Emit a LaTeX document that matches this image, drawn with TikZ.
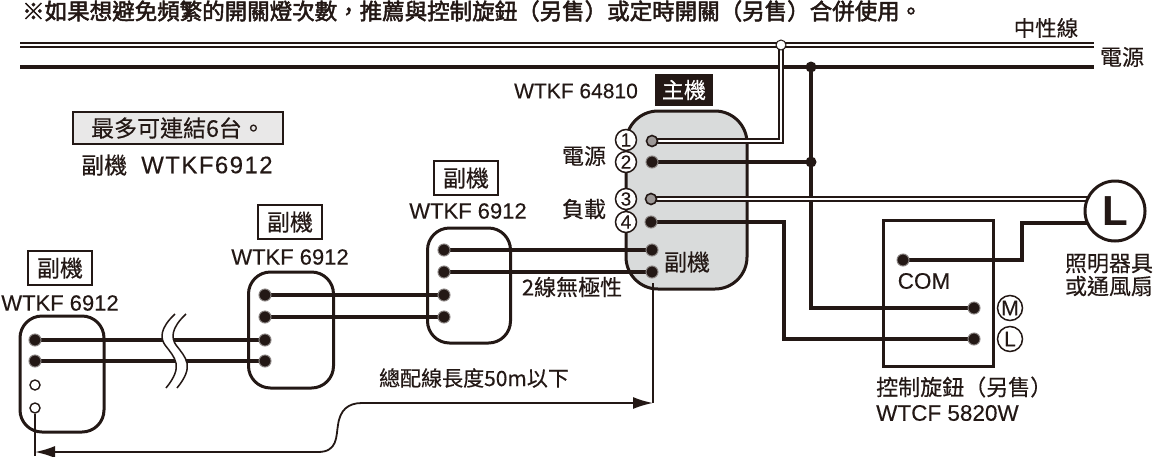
\documentclass[tikz,border=0pt]{standalone}
\usepackage{fontspec}
\setmainfont[FakeBold=0.3]{Liberation Sans}
\newfontfamily\cjk[FakeBold=0.35]{Noto Sans CJK TC}
\newfontfamily\cjkm[FakeBold=2.2]{Noto Sans CJK TC}
\newfontfamily\latb{Liberation Sans Bold}
\usetikzlibrary{arrows.meta}
\definecolor{ink}{HTML}{231815}
\definecolor{panel}{HTML}{D9DBDB}
\pgfdeclarelayer{boxes}\pgfdeclarelayer{wires}
\pgfsetlayers{boxes,wires,main}
\newcommand{\fs}[1]{\fontsize{#1}{#1}\selectfont}
\tikzset{
 x=1pt,y=-1pt,
 every node/.style={text=ink,inner sep=0pt},
 txt/.style={font=\fs{22}},
 cj/.style={font=\fs{22}\cjk},
 unit/.style={draw=ink,line width=3pt,rounded corners=#1,inner sep=0pt},
 thick wire/.style={draw=ink,line width=4.5pt},
 double wire/.style={draw=ink,double=white,line width=1.7pt,double distance=1.8pt},
 term/.style={circle,fill=ink,draw=ink!55,line width=1pt,minimum size=12pt},
 openterm/.style={circle,fill=white,draw=ink,line width=1.4pt,minimum size=10pt},
 ringterm/.style={circle,fill=ink!45,draw=ink,line width=1.6pt,minimum size=11pt},
 junction/.style={circle,fill=ink,minimum size=11pt},
 num/.style={circle,fill=white,draw=ink,line width=1.5pt,minimum size=21pt,font=\fs{19}},
 numb/.style={num,minimum size=25pt,font=\fs{21}},
 tag/.style={draw=ink,line width=2.2pt,minimum width=64pt,minimum height=34pt,font=\fs{23}\cjk},
 dim/.style={draw=ink,line width=1.8pt},
 dimarrow/.style={dim,{Latex[length=20pt,width=12pt]}-{Latex[length=20pt,width=12pt]}},
}
\begin{document}
\begin{tikzpicture}
\useasboundingbox (0,0) rectangle (1153,456);
% units
\begin{pgfonlayer}{boxes}
\node[unit=32pt,fill=panel,minimum width=121pt,minimum height=178pt] (main) at (686.5,200) {};
\node[unit=22pt,fill=white,minimum width=83pt,minimum height=115pt] (s1) at (469,285.5) {};
\node[unit=22pt,fill=white,minimum width=85pt,minimum height=116pt] (s2) at (291,330) {};
\node[unit=22pt,fill=white,minimum width=84pt,minimum height=116pt] (s3) at (62,374) {};
\node[draw=ink,line width=3pt,fill=white,minimum width=110pt,minimum height=146pt] (ctl) at (938,293) {};
\end{pgfonlayer}
% terminals
\node[ringterm] (t1) at (652,141) {};
\node[term] (t2) at (652,162) {};
\node[ringterm] (t3) at (651,199) {};
\node[term] (t4) at (651,222) {};
\node[term] (ta) at (652,250) {};
\node[term] (tb) at (652,272) {};
\node[term] (a1) at (444,250) {};
\node[term] (a2) at (444,272) {};
\node[term] (a3) at (444,295) {};
\node[term] (a4) at (444,317) {};
\node[term] (b1) at (265,295) {};
\node[term] (b2) at (265,317) {};
\node[term] (b3) at (265,340) {};
\node[term] (b4) at (265,361) {};
\node[term] (c1) at (35,340) {};
\node[term] (c2) at (35,361) {};
\node[openterm] (c3) at (35,385) {};
\node[openterm] (c4) at (35,408) {};
\node[term] (com) at (903,260) {};
\node[term] (m) at (974,308) {};
\node[term] (l) at (974,339) {};
% load
\node[circle,fill=white,draw=ink,line width=3pt,minimum size=60pt,font=\fs{42}\latb] (load) at (1115,211) {L};
% bus
\coordinate (nl) at (20,45); \coordinate (nr) at (1094,45);
\coordinate (pl) at (20,67); \coordinate (pr) at (1094,67);
\node[circle,fill=white,draw=ink,line width=1pt,minimum size=10pt] (jn) at (781,45) {};
\node[junction] (jp) at (811,67) {};
\node[junction] (j2) at (811,162) {};
\coordinate (tbfoot) at (653,283);
\coordinate (dimend) at (653,403);
\coordinate (dimstart) at (35,452);
\coordinate (cfoot) at (35,456);
\coordinate (bend4) at (784,339);
\coordinate (bendc) at (1022,223);
\begin{pgfonlayer}{wires}
\draw[double wire] (nl) -- (nr);
\draw[thick wire] (pl) -- (pr);
\draw[double wire] (jn.center) |- (t1.center);
\draw[thick wire] (t2.center) -- (j2.center);
\draw[thick wire] (jp.center) |- (m.center);
\draw[thick wire] (t4.center) -| (bend4) -- (l.center);
\draw[double wire] (t3.center) -- (t3.center -| load.center);
\draw[thick wire] (com.center) -| (bendc) -- (bendc -| load.center);
\draw[thick wire] (ta.center) -- (a1.center);
\draw[thick wire] (tb.center) -- (a2.center);
\draw[thick wire] (a3.center) -- (b1.center);
\draw[thick wire] (a4.center) -- (b2.center);
\draw[thick wire] (b3.center) -- (c1.center);
\draw[thick wire] (b4.center) -- (c2.center);
\draw[dim] (tbfoot) -- (dimend);
\draw[dim] (c4.south) -- (cfoot);
\end{pgfonlayer}
% break mark
\fill[white] (175,314) .. controls (160,328) and (160,338) .. (165,345) .. controls (175,358) and (184,366) .. (166,388)
 -- (177,388) .. controls (195,366) and (186,358) .. (176,345) .. controls (171,338) and (171,328) .. (186,314) -- cycle;
\draw[ink,line width=1.5pt] (175,314) .. controls (160,328) and (160,338) .. (165,345) .. controls (175,358) and (184,366) .. (166,388);
\draw[ink,line width=1.5pt] (186,314) .. controls (171,328) and (171,338) .. (176,345) .. controls (186,358) and (195,366) .. (177,388);
% dimension
\draw[dimarrow] (dimstart) -- (318,452) .. controls (338,452) and (336,436) .. (338,425) .. controls (340,410) and (348,403) .. (362,403) -- (dimend);
% numbered pins
\node[num] at (626,140) {1};
\node[num] at (626,162) {2};
\node[num] at (626,199) {3};
\node[num] at (626,222) {4};
\node[numb] at (1010,308) {M};
\node[numb] at (1010,339) {L};
% text
\node[anchor=west,font=\fs{22.5}\cjkm] at (22,11) {※如果想避免頻繁的開關燈次數，推薦與控制旋鈕（另售）或定時開關（另售）合併使用。};
\node[font=\fs{21.5}\cjk] at (1046,28) {中性線};
\node[cj] at (1122,57) {電源};
\node[font=\fs{21}] at (576,91) {WTKF 64810};
\node[fill=ink,minimum width=58pt,minimum height=32pt,text=white,font=\fs{22}\cjk] at (684,90) {主機};
\node[draw=ink,fill=ink!10,line width=1.5pt,minimum width=210pt,minimum height=32pt,font=\fs{23}\cjk] at (178,128) {最多可連結6台。};
\node[anchor=west,font=\fs{23}\cjk] at (81,165) {副機};
\node[anchor=west,font=\fs{24}\addfontfeatures{LetterSpace=6}] at (141,165) {WTKF6912};
\node[cj] at (584,156) {電源};
\node[cj] at (584,209) {負載};
\node[font=\fs{23}\cjk] at (687,262) {副機};
\node[font=\fs{22}\cjk] at (572,287) {2線無極性};
\node[tag] at (466,178) {副機};
\node[txt] at (468,211) {WTKF 6912};
\node[tag] at (290,222) {副機};
\node[txt] at (290,257) {WTKF 6912};
\node[tag] at (60,268) {副機};
\node[txt] at (60,303) {WTKF 6912};
\node[font=\fs{21}\cjk] at (474,378) {總配線長度50m以下};
\node[font=\fs{22.5}] at (924,281) {COM};
\node[anchor=west,font=\fs{22}\cjk] at (876,387) {控制旋鈕（另售）};
\node[anchor=west,font=\fs{22.5}] at (876,413) {WTCF 5820W};
\node[font=\fs{22}\cjk,align=center] at (1109,275) {照明器具\\[1pt]或通風扇};
\end{tikzpicture}
\end{document}
